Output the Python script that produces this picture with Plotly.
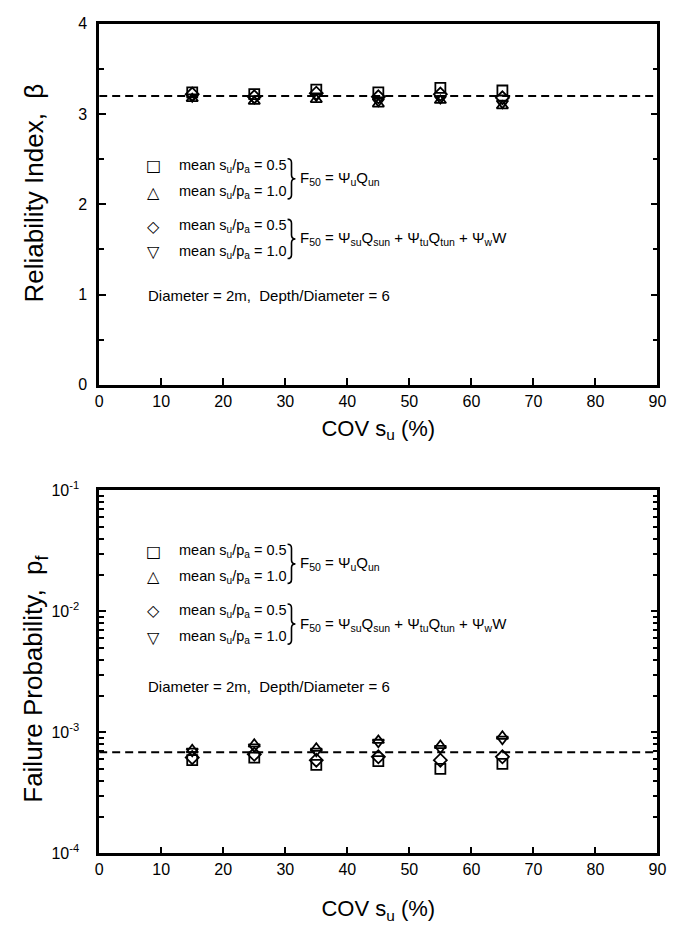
import plotly.graph_objects as go

cov = [15, 25, 35, 45, 55, 65]

# Reliability index (top panel)
beta_sq = [3.24, 3.22, 3.27, 3.24, 3.29, 3.26]     # mean su/pa=0.5, F50 = Psi_u Q_un
beta_tu = [3.17, 3.14, 3.16, 3.11, 3.15, 3.09]     # mean su/pa=1.0, F50 = Psi_u Q_un
beta_di = [3.22, 3.19, 3.23, 3.19, 3.22, 3.18]     # mean su/pa=0.5, F50 = sum
beta_td = [3.19, 3.17, 3.20, 3.14, 3.17, 3.12]     # mean su/pa=1.0, F50 = sum
beta_target = 3.2

# Failure probability (bottom panel)
pf_sq = [5.9e-4, 6.2e-4, 5.4e-4, 5.8e-4, 5.0e-4, 5.5e-4]
pf_tu = [7.2e-4, 8.0e-4, 7.4e-4, 8.6e-4, 7.8e-4, 9.3e-4]
pf_di = [6.2e-4, 6.6e-4, 5.9e-4, 6.3e-4, 5.9e-4, 6.3e-4]
pf_td = [7.0e-4, 7.6e-4, 7.0e-4, 8.3e-4, 7.4e-4, 8.8e-4]
pf_target = 6.87e-4

W, H = 692, 930
FONT = "Liberation Sans"

fig = go.Figure()

def px(x):
    return x / W

def py(y):
    return 1 - y / H

top_x = [px(97), px(666)]
top_y = [py(382), py(13)]
bot_y = [py(861), py(490)]

symbols = ["square-open", "triangle-up-open", "diamond-open", "triangle-down-open"]
top_series = [beta_sq, beta_tu, beta_di, beta_td]
bot_series = [pf_sq, pf_tu, pf_di, pf_td]

for s, ys in zip(symbols, top_series):
    fig.add_trace(go.Scatter(x=cov, y=ys, mode="markers", xaxis="x", yaxis="y",
                             marker=dict(symbol=s, size=10, color="black", line=dict(width=1.8, color="black")),
                             showlegend=False))
for s, ys in zip(symbols, bot_series):
    fig.add_trace(go.Scatter(x=cov, y=ys, mode="markers", xaxis="x2", yaxis="y2",
                             marker=dict(symbol=s, size=10, color="black", line=dict(width=1.8, color="black")),
                             showlegend=False))

fig.add_shape(type="line", xref="x", yref="y", x0=0, x1=90, y0=beta_target, y1=beta_target,
              line=dict(color="black", width=2, dash="8px,5px"), layer="below")
fig.add_shape(type="line", xref="x2", yref="y2", x0=0, x1=90, y0=pf_target, y1=pf_target,
              line=dict(color="black", width=2, dash="8px,5px"), layer="below")

axis_common = dict(showline=True, linecolor="black", linewidth=2.5, ticks="inside",
                   tickcolor="black", tickwidth=2, showgrid=False, zeroline=False,
                   tickfont=dict(family=FONT, size=16, color="black"))

fig.update_layout(
    width=W, height=H, margin=dict(l=0, r=0, t=0, b=0),
    paper_bgcolor="white", plot_bgcolor="white",
    font=dict(family=FONT, color="black"),
    xaxis=dict(domain=top_x, range=[0, 90], dtick=10, tick0=0, mirror=True, ticklen=7,
               anchor="y",
               title=dict(text="COV s<sub>u</sub> (%)", font=dict(family=FONT, size=22), standoff=12),
               **axis_common),
    yaxis=dict(domain=top_y, range=[0, 4], dtick=1, mirror="ticks", ticklen=7, anchor="x",
               ticklabelstandoff=6,
               minor=dict(dtick=0.5, ticks="inside", ticklen=5, tickcolor="black", tickwidth=2),
               **axis_common),
    xaxis2=dict(domain=top_x, range=[0, 90], dtick=10, tick0=0, mirror=True, ticklen=7,
                anchor="y2",
                title=dict(text="COV s<sub>u</sub> (%)", font=dict(family=FONT, size=22), standoff=24),
                **axis_common),
    yaxis2=dict(domain=bot_y, type="log", range=[-4, -1], mirror="ticks", ticklen=7, anchor="x2",
                ticklabelstandoff=14,
                tickvals=[1e-4, 1e-3, 1e-2, 1e-1],
                ticktext=["10<sup>-4</sup>", "10<sup>-3</sup>", "10<sup>-2</sup>", "10<sup>-1</sup>"],
                minor=dict(ticks="inside", ticklen=5, tickcolor="black", tickwidth=1.5,
                           tickvals=[m * 10 ** e for e in (-4, -3, -2) for m in range(2, 10)]),
                **axis_common),
)

# rotated y-axis titles
fig.add_annotation(xref="paper", yref="paper", x=px(31), y=py(186), text="Reliability Index,  β",
                   textangle=-90, showarrow=False, xanchor="center", yanchor="middle",
                   font=dict(family=FONT, size=26, color="black"))
fig.add_annotation(xref="paper", yref="paper", x=px(31), y=py(682), text="Failure Probability,  p<sub>f</sub>",
                   textangle=-90, showarrow=False, xanchor="center", yanchor="middle",
                   font=dict(family=FONT, size=26, color="black"))

legend_syms = ["□", "△", "◇", "▽"]
legend_txt = ["mean s<sub>u</sub>/p<sub>a</sub> = 0.5", "mean s<sub>u</sub>/p<sub>a</sub> = 1.0",
              "mean s<sub>u</sub>/p<sub>a</sub> = 0.5", "mean s<sub>u</sub>/p<sub>a</sub> = 1.0"]
formula1 = "F<sub>50</sub> = Ψ<sub>u</sub>Q<sub>un</sub>"
formula2 = ("F<sub>50</sub> = Ψ<sub>su</sub>Q<sub>sun</sub> + Ψ<sub>tu</sub>Q<sub>tun</sub>"
            " + Ψ<sub>w</sub>W")
note = "Diameter = 2m,  Depth/Diameter = 6"

def add_legend(rows, note_y):
    for sym, txt, ry in zip(legend_syms, legend_txt, rows):
        fig.add_annotation(xref="paper", yref="paper", x=px(152), y=py(ry), text=sym,
                           showarrow=False, xanchor="center", yanchor="middle",
                           font=dict(family="DejaVu Sans", size=16, color="black"))
        fig.add_annotation(xref="paper", yref="paper", x=px(176), y=py(ry), text=txt,
                           showarrow=False, xanchor="left", yanchor="middle",
                           font=dict(family=FONT, size=14.5, color="black"))
    for (r0, r1), f in zip([(rows[0], rows[1]), (rows[2], rows[3])], [formula1, formula2]):
        xa, xb, xc = 289, 293, 297
        y0, y1 = r0 - 7, r1 + 7
        ym = (y0 + y1) / 2
        path = (f"M {px(xa)},{py(y0)} Q {px(xb)},{py(y0)} {px(xb)},{py(y0 + 4)} "
                f"L {px(xb)},{py(ym - 4)} Q {px(xb)},{py(ym)} {px(xc)},{py(ym)} "
                f"Q {px(xb)},{py(ym)} {px(xb)},{py(ym + 4)} "
                f"L {px(xb)},{py(y1 - 4)} Q {px(xb)},{py(y1)} {px(xa)},{py(y1)}")
        fig.add_shape(type="path", xref="paper", yref="paper", path=path,
                      line=dict(color="black", width=1.6))
        fig.add_annotation(xref="paper", yref="paper", x=px(300), y=py(ym), text=f,
                           showarrow=False, xanchor="left", yanchor="middle",
                           font=dict(family=FONT, size=15, color="black"))
    fig.add_annotation(xref="paper", yref="paper", x=px(145), y=py(note_y), text=note,
                       showarrow=False, xanchor="left", yanchor="middle",
                       font=dict(family=FONT, size=15, color="black"))

add_legend([158, 185, 220, 246], 291)
add_legend([552, 578, 613, 640], 690)

fig.write_html("out.html", config={"displayModeBar": False},
               post_script="document.body.style.margin='0';document.body.style.overflow='hidden';")
